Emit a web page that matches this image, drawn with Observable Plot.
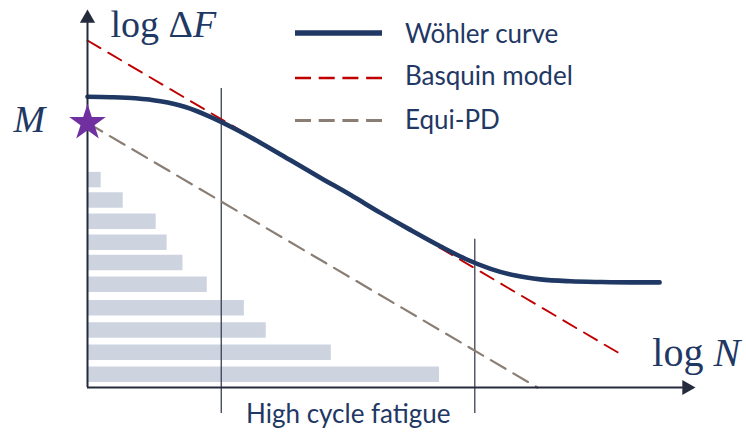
<!DOCTYPE html>
<html>
<head>
<meta charset="utf-8">
<script src="https://cdn.jsdelivr.net/npm/d3@7"></script>
<script src="https://cdn.jsdelivr.net/npm/@observablehq/plot@0.6"></script>
<style>
  body { margin: 0; background: #ffffff; }
  #wrap { position: relative; width: 746px; height: 434px; overflow: hidden; }
  #wrap svg.legend { position: absolute; left: 0; top: 0; pointer-events: none; }
</style>
</head>
<body>
<div id="wrap"></div>
<script>
// ---- data (log N on x, log ΔF on y, arbitrary units) ----
const wohlerN = [0, 0.38, 0.79, 1.20, 1.61, 2.02, 2.43, 2.85, 3.34, 3.83, 4.33, 4.82, 5.31, 5.81, 6.22, 6.63, 7.04, 7.45, 7.94, 8.44, 8.93, 9.41];
const wohlerF = [7.69, 7.68, 7.65, 7.57, 7.42, 7.16, 6.84, 6.47, 6.01, 5.55, 5.09, 4.62, 4.17, 3.73, 3.40, 3.14, 2.96, 2.86, 2.81, 2.79, 2.78, 2.78];
const basquinN = [0, 8.72];
const basquinF = [9.18, 0.93];
const equiN = [0, 7.40];
const equiF = [7.00, 0];
const markerN = 0;
const markerF = 7.00;
const barLevels = [5.50, 4.96, 4.40, 3.84, 3.31, 2.73, 2.11, 1.52, 0.93, 0.35];
const barLengths = [0.225, 0.587, 1.13, 1.31, 1.57, 1.97, 2.58, 2.94, 4.01, 5.79];
const regionBounds = [2.20, 6.37];
const regionTops = [7.91, 3.92];
const regionBottom = -0.69;
const regionLabel = "High cycle fatigue";
const yLabel = "log ΔF";
const xLabel = "log N";
const markerLabel = "M";
const legendLabels = ["Wöhler curve", "Basquin model", "Equi-PD"];

// ---- styles ----
const navy = "#1F3864";
const textColor = "#1F3864";
const red = "#C00000";
const grey = "#8A7E74";
const barColor = "#CDD4DF";
const axisColor = "#242B3D";

const wohler = wohlerN.map((n, i) => ({n, f: wohlerF[i]}));
const basquin = basquinN.map((n, i) => ({n, f: basquinF[i]}));
const equi = equiN.map((n, i) => ({n, f: equiF[i]}));
const bars = barLevels.map((lvl, i) => ({lvl, len: barLengths[i]}));
const regions = regionBounds.map((n, i) => ({n, top: regionTops[i]}));

const chart = Plot.plot({
  width: 746,
  height: 434,
  marginTop: 0, marginRight: 0, marginBottom: 0, marginLeft: 0,
  x: {domain: [0, 10], range: [87, 695], axis: null},
  y: {domain: [0, 10], range: [387, 9], axis: null},
  marks: [
    Plot.ruleY(bars, {y: "lvl", x1: 0, x2: "len", stroke: barColor, strokeWidth: 15.5}),
    Plot.ruleX(regions, {x: "n", y1: regionBottom, y2: "top", stroke: "#3A4154", strokeWidth: 1.3}),
    Plot.line(equi, {x: "n", y: "f", stroke: grey, strokeWidth: 2.2, strokeDasharray: "17 9"}),
    Plot.line(basquin, {x: "n", y: "f", stroke: red, strokeWidth: 1.9, strokeDasharray: "15 9"}),
    Plot.line(wohler, {x: "n", y: "f", stroke: navy, strokeWidth: 4.6, curve: "monotone-x"}),
    Plot.ruleX([0], {y1: 0, y2: 9.8, stroke: axisColor, strokeWidth: 2}),
    Plot.ruleY([0], {x1: 0, x2: 9.8, stroke: axisColor, strokeWidth: 2}),
    Plot.dot([{n: 0, f: 9.767, rot: 0}, {n: 9.855, f: 0, rot: 90}],
      {x: "n", y: "f", rotate: "rot", symbol: "triangle", r: 5.66, fill: axisColor, stroke: "none"}),
    Plot.dot([{n: markerN, f: markerF}], {x: "n", y: "f", symbol: "star", r: 11.5, fill: "#7030A0", stroke: "none"}),
    Plot.text([yLabel], {x: 0.378, y: 9.27, text: d => d, textAnchor: "start", lineAnchor: "bottom",
      fontFamily: "Liberation Serif", fontSize: 38, fill: textColor}),
    Plot.text([markerLabel], {x: -1.217, y: 6.75, text: d => d, textAnchor: "start", lineAnchor: "bottom",
      fontFamily: "Liberation Serif", fontStyle: "italic", fontSize: 38, fill: textColor}),
    Plot.text([xLabel], {x: 9.29, y: 0.58, text: d => d, textAnchor: "start", lineAnchor: "bottom",
      fontFamily: "Liberation Serif", fontSize: 40, fill: textColor}),
    Plot.text([regionLabel], {x: 4.29, y: -0.95, text: d => d, textAnchor: "middle", lineAnchor: "bottom",
      fontFamily: "Lato", fontSize: 26, fill: textColor})
  ]
});

// italic math variables
chart.querySelectorAll("text").forEach(t => {
  if (t.textContent === yLabel) t.innerHTML = 'log Δ<tspan font-style="italic">F</tspan>';
  if (t.textContent === xLabel) t.innerHTML = 'log <tspan font-style="italic">N</tspan>';
});

const wrap = document.getElementById("wrap");
wrap.appendChild(chart);

// legend overlay
const ns = "http://www.w3.org/2000/svg";
const leg = document.createElementNS(ns, "svg");
leg.setAttribute("class", "legend");
leg.setAttribute("width", 746);
leg.setAttribute("height", 434);
const legStyles = [
  {stroke: navy, width: 5.5, dash: null, ly: 33, ty: 43},
  {stroke: red, width: 2.6, dash: "16 7.7", ly: 78, ty: 85},
  {stroke: grey, width: 3, dash: "16 7.7", ly: 120.5, ty: 129}
];
legendLabels.forEach((lab, i) => {
  const s = legStyles[i];
  const l = document.createElementNS(ns, "line");
  l.setAttribute("x1", 295); l.setAttribute("x2", 382);
  l.setAttribute("y1", s.ly); l.setAttribute("y2", s.ly);
  l.setAttribute("stroke", s.stroke); l.setAttribute("stroke-width", s.width);
  if (s.dash) l.setAttribute("stroke-dasharray", s.dash);
  leg.appendChild(l);
  const t = document.createElementNS(ns, "text");
  t.setAttribute("x", 405); t.setAttribute("y", s.ty);
  t.setAttribute("font-family", "Lato"); t.setAttribute("font-size", 26);
  t.setAttribute("fill", textColor);
  t.textContent = lab;
  leg.appendChild(t);
});
wrap.appendChild(leg);
</script>
</body>
</html>
